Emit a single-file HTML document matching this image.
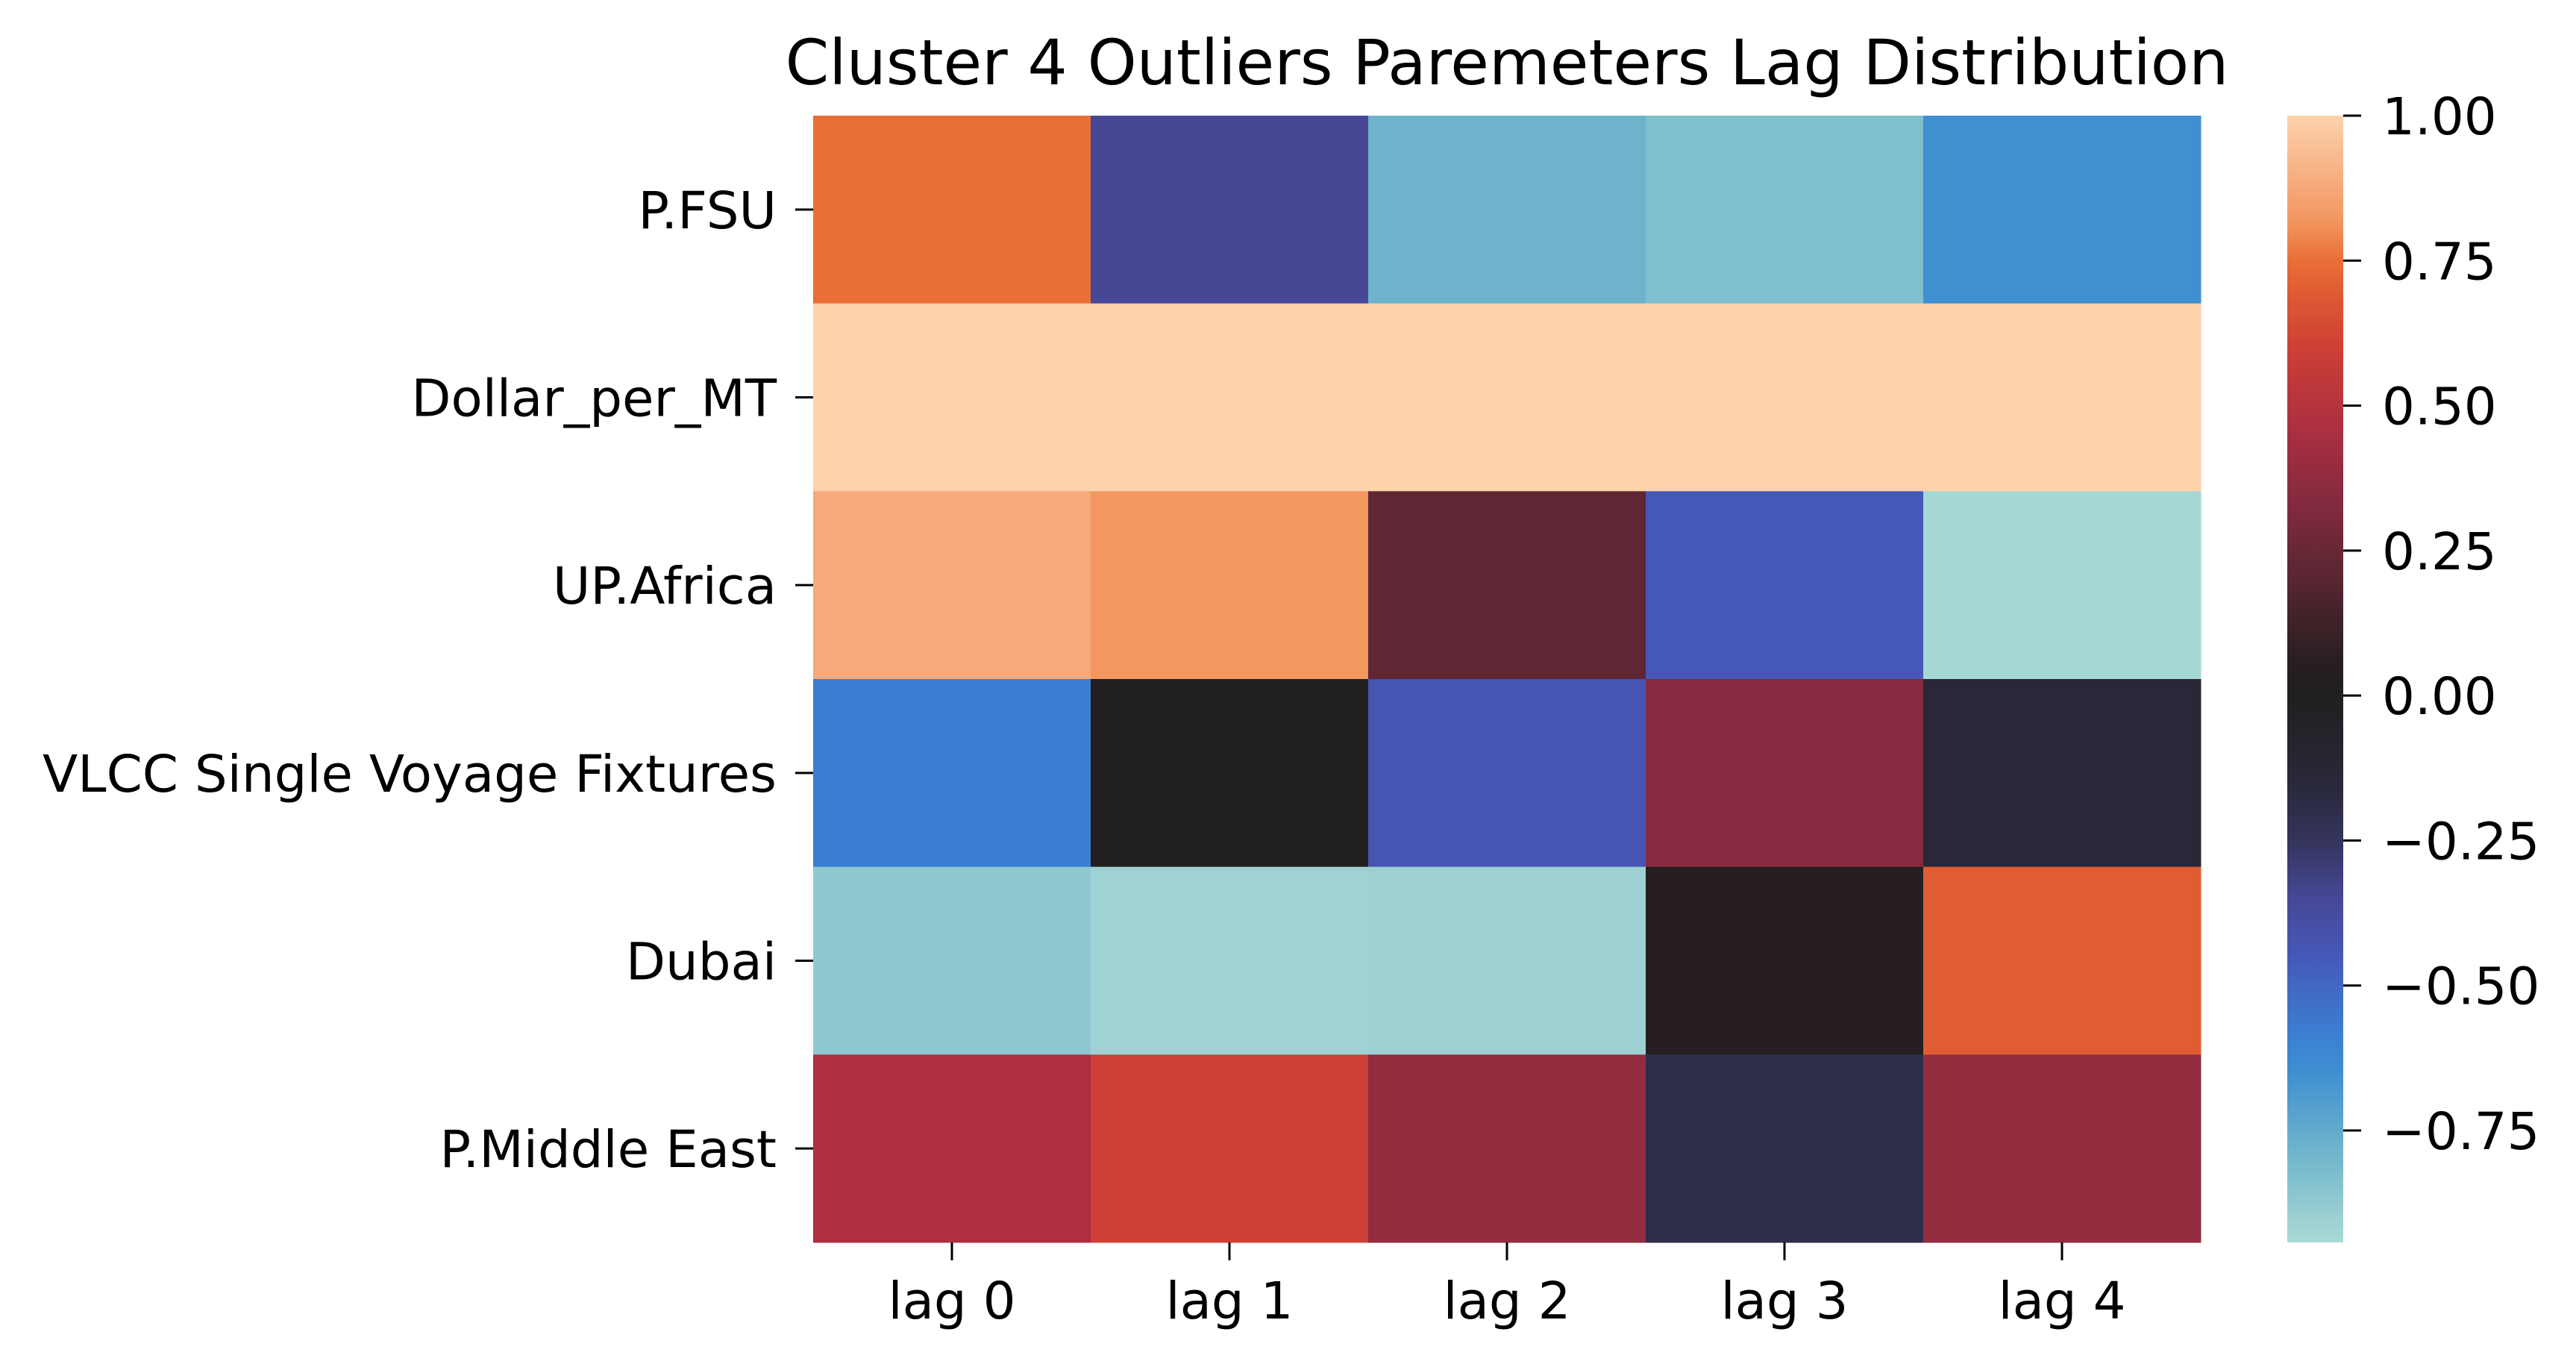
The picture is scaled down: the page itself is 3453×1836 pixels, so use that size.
<!DOCTYPE html>
<html><head><meta charset="utf-8"><style>
html,body{margin:0;padding:0;background:#fff;}
svg text{font-family:"DejaVu Sans","Liberation Sans",sans-serif;fill:#000;}
</style></head><body>
<svg id="chart" width="3453" height="1831" viewBox="0 0 3453 1831" xmlns="http://www.w3.org/2000/svg">
<defs>
<linearGradient id="cbgrad" x1="0" y1="1" x2="0" y2="0"></linearGradient>
</defs>
<text x="2020" y="113" font-size="84" text-anchor="middle">Cluster 4 Outliers Paremeters Lag Distribution</text>
<g id="cells"></g>
<g id="yaxis"></g>
<g id="xaxis"></g>
<rect id="cbrect" x="3066" y="155" width="75" height="1510" fill="url(#cbgrad)"/>
<g id="cbaxis"></g>
</svg>
<script>
const rows = ["P.FSU","Dollar_per_MT","UP.Africa","VLCC Single Voyage Fixtures","Dubai","P.Middle East"];
const cols = ["lag 0","lag 1","lag 2","lag 3","lag 4"];
const rowPFSU = [0.75,-0.35,-0.78,-0.83,-0.65];
const rowDollar = [1,1,1,1,1];
const rowUPAfrica = [0.88,0.82,0.22,-0.45,-0.93];
const rowVLCC = [-0.58,0.02,-0.43,0.34,-0.15];
const rowDubai = [-0.87,-0.91,-0.90,0.05,0.70];
const rowPME = [0.47,0.60,0.38,-0.20,0.38];
const values = [rowPFSU,rowDollar,rowUPAfrica,rowVLCC,rowDubai,rowPME];
const cbTicks = [1.00,0.75,0.50,0.25,0.00,-0.25,-0.50,-0.75];
const vmin = -0.943, vmax = 1.0;

const stops = [
 [-0.943,[168,218,214]],[-0.90,[157,207,211]],[-0.85,[134,196,207]],[-0.78,[109,179,203]],
 [-0.65,[63,143,209]],[-0.58,[59,126,209]],[-0.45,[69,88,184]],[-0.35,[70,72,150]],
 [-0.25,[52,52,92]],[-0.15,[40,40,57]],[0.0,[32,32,32]],[0.05,[38,30,32]],
 [0.22,[94,39,51]],[0.34,[134,42,63]],[0.47,[174,48,64]],[0.60,[205,64,53]],
 [0.70,[224,93,51]],[0.75,[233,111,55]],[0.82,[242,151,96]],[0.88,[246,169,123]],[1.0,[253,211,172]]
];
function cmap(v){
  if(v<=stops[0][0]) return 'rgb('+stops[0][1].join(',')+')';
  for(let i=1;i<stops.length;i++){
    if(v<=stops[i][0]){
      const a=stops[i-1],b=stops[i],t=(v-a[0])/(b[0]-a[0]);
      const c=a[1].map((x,k)=>Math.round(x+(b[1][k]-x)*t));
      return 'rgb('+c.join(',')+')';
    }
  }
  return 'rgb('+stops[stops.length-1][1].join(',')+')';
}
const NS='http://www.w3.org/2000/svg';
const X0=1090, X1=2950, Y0=155, Y1=1665;
const cw=(X1-X0)/cols.length, rh=(Y1-Y0)/rows.length;
function xPos(i){return X0+i*cw;}
function yPos(j){return Y0+j*rh;}
function mk(tag,attrs,parent){const e=document.createElementNS(NS,tag);for(const k in attrs)e.setAttribute(k,attrs[k]);parent.appendChild(e);return e;}
const cells=document.getElementById('cells');
values.forEach((row,j)=>row.forEach((v,i)=>{
  const r=mk('rect',{x:xPos(i),y:yPos(j),width:cw+0.5,height:rh+0.5,fill:cmap(v)},cells);
  
  
}));
const ya=document.getElementById('yaxis');
rows.forEach((lab,j)=>{
  const yc=yPos(j)+rh/2;
  const l=mk('line',{x1:1066,x2:1090,y1:yc,y2:yc,stroke:'#000','stroke-width':3},ya);
  
  
  const t=mk('text',{x:1041,y:yc+25,'font-size':69,'text-anchor':'end'},ya);
  t.textContent=lab;
  
  
});
const xa=document.getElementById('xaxis');
cols.forEach((lab,i)=>{
  const xc=xPos(i)+cw/2;
  const l=mk('line',{x1:xc,x2:xc,y1:1665,y2:1689,stroke:'#000','stroke-width':3},xa);
  
  
  const t=mk('text',{x:xc,y:1767,'font-size':69,'text-anchor':'middle'},xa);
  t.textContent=lab;
  
  
});
const grad=document.getElementById('cbgrad');
stops.forEach(s=>{
  mk('stop',{offset:((s[0]-vmin)/(vmax-vmin)),'stop-color':cmap(s[0])},grad);
});
function cbY(v){return Y1-(v-vmin)/(vmax-vmin)*(Y1-Y0);}
const cba=document.getElementById('cbaxis');
cbTicks.forEach(v=>{
  const y=cbY(v);
  const l=mk('line',{x1:3141,x2:3165,y1:y,y2:y,stroke:'#000','stroke-width':3},cba);
  
  
  const t=mk('text',{x:3193,y:y+25,'font-size':69},cba);
  t.textContent=(v<0?'\u2212':'')+Math.abs(v).toFixed(2);
  
  
});
</script>
</body></html>
